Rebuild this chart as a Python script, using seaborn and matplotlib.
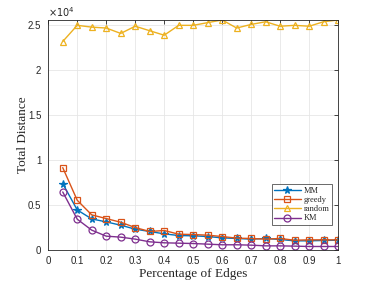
import matplotlib
matplotlib.use("Agg")
import matplotlib.pyplot as plt
import seaborn as sns
import numpy as np
import pandas as pd

x = [0.05, 0.1, 0.15, 0.2, 0.25, 0.3, 0.35, 0.4, 0.45, 0.5,
     0.55, 0.6, 0.65, 0.7, 0.75, 0.8, 0.85, 0.9, 0.95, 1.0]
mm = [0.737, 0.444, 0.344, 0.311, 0.274, 0.230, 0.204, 0.178, 0.159, 0.156,
      0.148, 0.133, 0.126, 0.119, 0.126, 0.115, 0.100, 0.100, 0.104, 0.107]
greedy = [0.915, 0.552, 0.389, 0.348, 0.307, 0.248, 0.204, 0.215, 0.174, 0.170,
          0.163, 0.148, 0.130, 0.126, 0.119, 0.126, 0.107, 0.111, 0.111, 0.111]
random_ = [2.32, 2.50, 2.48, 2.47, 2.41, 2.49, 2.44, 2.39, 2.50, 2.50,
           2.53, 2.56, 2.47, 2.51, 2.54, 2.49, 2.50, 2.49, 2.54, 2.56]
km = [0.644, 0.341, 0.219, 0.152, 0.141, 0.119, 0.089, 0.078, 0.074, 0.070,
      0.063, 0.056, 0.056, 0.052, 0.044, 0.044, 0.041, 0.037, 0.037, 0.037]
names = ["MM", "greedy", "random", "KM"]
xticks = [0, 0.1, 0.2, 0.3, 0.4, 0.5, 0.6, 0.7, 0.8, 0.9, 1]
xticklabels = ["0", "0.1", "0.2", "0.3", "0.4", "0.5", "0.6", "0.7", "0.8", "0.9", "1"]
yticks = [0, 0.5, 1, 1.5, 2, 2.5]
yticklabels = ["0", "0.5", "1", "1.5", "2", "2.5"]

sns.set_style("white")
plt.rcParams["font.family"] = ["Liberation Sans", "DejaVu Sans"]

colors = ["#0072BD", "#D95319", "#EDB120", "#7E2F8E"]
markers = ["*", "s", "^", "o"]
series = [mm, greedy, random_, km]

fig = plt.figure(figsize=(3.74, 2.81), dpi=100)
ax = fig.add_axes([0.129, 0.111, 0.775, 0.818])

for name, vals, c, m in zip(names, series, colors, markers):
    df = pd.DataFrame({"x": x, "y": np.array(vals) * 1e4})
    sns.lineplot(data=df, x="x", y="y", ax=ax, color=c, marker=m,
                 markersize=5 if m != "*" else 5.5,
                 markerfacecolor="none" if m != "*" else c,
                 markeredgecolor=c, markeredgewidth=0.9, linewidth=1.0,
                 label=name)

ax.set_xlim(0, 1)
ax.set_ylim(0, 2.56e4)
ax.set_xticks(xticks)
ax.set_xticklabels(xticklabels)
ax.set_yticks([v * 1e4 for v in yticks])
ax.set_yticklabels(yticklabels)
ax.grid(True, color="#e6e6e6", linewidth=0.6)
ax.set_axisbelow(True)
for s in ax.spines.values():
    s.set_color("#262626")
    s.set_linewidth(0.6)
ax.tick_params(direction="in", length=3, width=0.6, colors="#262626",
               labelsize=7, top=True, right=True)
ax.tick_params(axis="x", pad=4.5)
ax.tick_params(axis="y", pad=5)
ax.text(0.0, 1.005, r"$\times10^4$", transform=ax.transAxes, fontsize=7,
        color="#262626", ha="left", va="bottom")

ax.set_xlabel("Percentage of Edges", fontfamily="Liberation Serif", fontsize=9.5,
              va="center")
ax.set_ylabel("Total Distance", fontfamily="Liberation Serif", fontsize=9.5,
              va="center")
ax.xaxis.set_label_coords(0.5, -0.106)
ax.yaxis.set_label_coords(-0.087, 0.5)

leg = ax.legend(loc="lower right", bbox_to_anchor=(0.995, 0.09),
                prop={"family": "Liberation Serif", "size": 6},
                frameon=True, fancybox=False, edgecolor="#262626",
                handlelength=3.2, borderpad=0.3, labelspacing=0.15,
                handletextpad=0.4)
leg.get_frame().set_linewidth(0.6)

fig.savefig("out.png", dpi=100)
